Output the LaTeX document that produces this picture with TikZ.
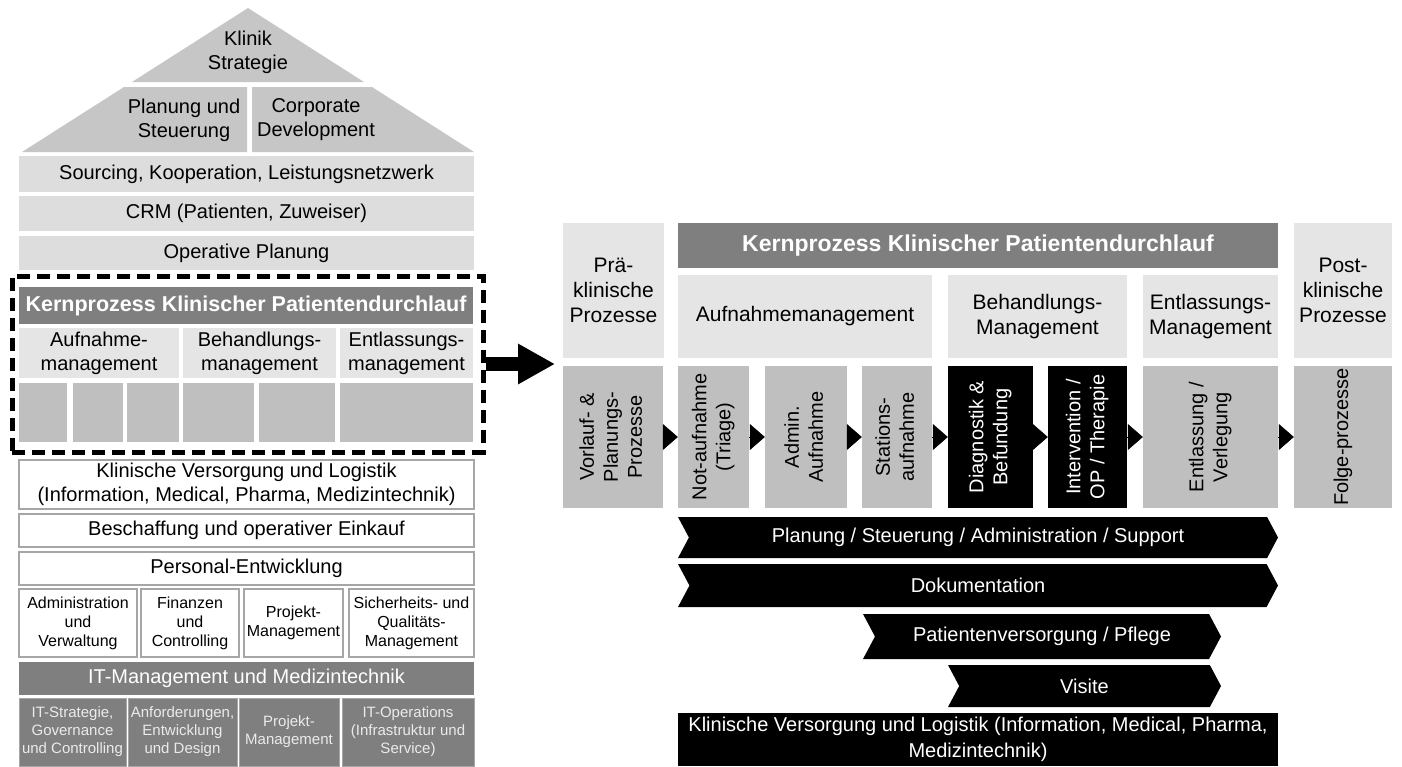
\documentclass[tikz,border=0pt]{standalone}
\usepackage{fontspec}
\setmainfont{Liberation Sans}
\usetikzlibrary{positioning,arrows.meta,shapes.symbols}
\definecolor{roofgray}{HTML}{C6C6C6}
\definecolor{bargray}{HTML}{DDDDDD}
\definecolor{headgray}{HTML}{E5E5E5}
\definecolor{cellgray}{HTML}{BFBFBF}
\definecolor{kerngray}{HTML}{7F7F7F}
\definecolor{framegray}{HTML}{A6A6A6}

\begin{document}
\begin{tikzpicture}[x=1pt,y=-1pt,
  spanning/.style n args={4}{minimum width={#3-#1}, minimum height={#4-#2}, at={({(#1+#3)/2},{(#2+#4)/2})}},
  cell/.style={inner sep=0pt, align=center, font=\fontsize{20}{24}\selectfont},
  lightbar/.style={cell, fill=bargray},
  headbox/.style={cell, fill=headgray},
  greybox/.style={cell, fill=cellgray},
  kernbar/.style={cell, fill=kerngray, text=white},
  whitebox/.style={cell, draw=framegray, line width=1.5pt, fill=white},
  smallbox/.style={whitebox, font=\fontsize{16}{19}\selectfont},
  itbox/.style={cell, fill=kerngray, draw=framegray, line width=1pt, text=white!92!black, font=\fontsize{15}{18}\selectfont},
  blackbox/.style={cell, fill=black, text=white},
  chevron/.style={cell, shape=signal, signal from=west, signal to=east, signal pointer angle=124, fill=black, text=white},
  stepto/.style={-{Triangle[length=15pt,width=26pt]}, line width=0.5pt},
  focusframe/.style={draw, line width=5pt, dash pattern=on 13pt off 7pt, inner sep=0pt},
  bigarrow/.style={-{Triangle[length=37pt,width=38pt]}, line width=14pt}
]
\useasboundingbox (0,0) rectangle (1402,766);

% house roof
\fill[roofgray] (248,8) -- (364,82) -- (132,82) -- cycle;
\fill[roofgray] (124,87) -- (247,87) -- (247,152) -- (22,152) -- cycle;
\fill[roofgray] (252,87) -- (372,87) -- (474,152) -- (252,152) -- cycle;
\node[cell] (strat) at (248,52) {Klinik\\Strategie};
\node[cell] (plst) at (184,120) {Planung und\\Steuerung};
\node[cell] (corp) at (316,120) {Corporate\\Development};

% house floors
\node[lightbar, spanning={19}{156}{474}{192}] (src) {Sourcing, Kooperation, Leistungsnetzwerk};
\node[lightbar, spanning={19}{196}{474}{231}] (crm) {CRM (Patienten, Zuweiser)};
\node[lightbar, spanning={19}{236}{474}{270}] (opp) {Operative Planung};

\node[kernbar, spanning={19}{287}{473}{324}, font=\fontsize{21.5}{24}\selectfont\bfseries] (kpl) {Kernprozess Klinischer Patientendurchlauf};
\node[headbox, spanning={19}{328}{179}{378}] (aufl) {Aufnahme-\\management};
\node[headbox, spanning={183}{328}{336}{378}] (behl) {Behandlungs-\\management};
\node[headbox, spanning={340}{328}{473}{378}] (entl) {Entlassungs-\\management};
\node[greybox, spanning={19}{383}{67}{442}] (sqa) {};
\node[greybox, spanning={73}{383}{123}{442}] (sqb) {};
\node[greybox, spanning={127}{383}{179}{442}] (sqc) {};
\node[greybox, spanning={183}{383}{254}{442}] (sqd) {};
\node[greybox, spanning={259}{383}{335}{442}] (sqe) {};
\node[greybox, spanning={340}{383}{473}{442}] (sqf) {};
\node[focusframe, spanning={12}{276}{483}{452}] (focus) {};

\node[whitebox, spanning={19}{460}{474}{509}] (kvl) {Klinische Versorgung und Logistik\\(Information, Medical, Pharma, Medizintechnik)};
\node[whitebox, spanning={19}{514}{474}{547}] (bes) {Beschaffung und operativer Einkauf};
\node[whitebox, spanning={19}{552}{474}{585}] (pers) {Personal-Entwicklung};
\node[smallbox, spanning={19}{589}{137}{657}] (adm) {Administration\\und\\Verwaltung};
\node[smallbox, spanning={141}{589}{239}{657}] (fin) {Finanzen\\und\\Controlling};
\node[smallbox, spanning={244}{589}{343}{657}] (prjl) {Projekt-\\Management};
\node[smallbox, spanning={349}{589}{474}{657}] (sich) {Sicherheits- und\\Qualitäts-\\Management};
\node[kernbar, spanning={19}{662}{474}{695}] (itm) {IT-Management und Medizintechnik};
\node[itbox, spanning={19}{698}{126}{766}] (its) {IT-Strategie,\\Governance\\und Controlling};
\node[itbox, spanning={128}{698}{237}{766}] (anf) {Anforderungen,\\Entwicklung\\und Design};
\node[itbox, spanning={239}{698}{339}{766}] (prji) {Projekt-\\Management};
\node[itbox, spanning={342}{698}{474}{766}] (itop) {IT-Operations\\(Infrastruktur und\\Service)};

\coordinate (tip) at (555,364);
\draw[bigarrow] (focus.east) -- (tip);

% core process, detail
\node[headbox, spanning={563}{223}{664}{358}, font=\fontsize{21}{25}\selectfont] (pre) {Prä-\\klinische\\Prozesse};
\node[kernbar, spanning={678}{223}{1278}{268}, font=\fontsize{23}{26}\selectfont\bfseries] (kpr) {Kernprozess Klinischer Patientendurchlauf};
\node[headbox, spanning={678}{275}{932}{358}, font=\fontsize{21}{25}\selectfont] (aufr) {Aufnahmemanagement};
\node[headbox, spanning={948}{275}{1127}{358}, font=\fontsize{21}{25}\selectfont] (behr) {Behandlungs-\\Management};
\node[headbox, spanning={1143}{275}{1278}{358}, font=\fontsize{21}{25}\selectfont] (entr) {Entlassungs-\\Management};
\node[headbox, spanning={1294}{223}{1392}{358}, font=\fontsize{21}{25}\selectfont] (post) {Post-\\klinische\\Prozesse};

\node[greybox, spanning={563}{366}{663}{508}] (vor) {\rotatebox{90}{\begin{tabular}{@{}c@{}}Vorlauf- \&\\Planungs-\\Prozesse\end{tabular}}};
\node[greybox, spanning={678}{366}{749}{508}] (nota) {\rotatebox{90}{\begin{tabular}{@{}c@{}}Not-aufnahme\\(Triage)\end{tabular}}};
\node[greybox, spanning={765}{366}{847}{508}] (admi) {\rotatebox{90}{\begin{tabular}{@{}c@{}}Admin.\\Aufnahme\end{tabular}}};
\node[greybox, spanning={862}{366}{932}{508}] (stat) {\rotatebox{90}{\begin{tabular}{@{}c@{}}Stations-\\aufnahme\end{tabular}}};
\node[blackbox, spanning={948}{366}{1033}{508}] (diag) {\rotatebox{90}{\begin{tabular}{@{}c@{}}Diagnostik \&\\Befundung\end{tabular}}};
\node[blackbox, spanning={1048}{366}{1127}{508}] (inter) {\rotatebox{90}{\begin{tabular}{@{}c@{}}Intervention /\\OP / Therapie\end{tabular}}};
\node[greybox, spanning={1143}{366}{1278}{508}] (verl) {\rotatebox{90}{\begin{tabular}{@{}c@{}}Entlassung /\\Verlegung\end{tabular}}};
\node[greybox, spanning={1294}{366}{1392}{508}] (folge) {\rotatebox{90}{Folge-prozesse}};

\draw[stepto] (vor) -- (nota);
\draw[stepto] (nota) -- (admi);
\draw[stepto] (admi) -- (stat);
\draw[stepto] (stat) -- (diag);
\draw[stepto] (diag) -- (inter);
\draw[stepto] (inter) -- (verl);
\draw[stepto] (verl) -- (folge);

% support processes
\node[chevron, spanning={678}{517}{1278}{558}] (plan) {Planung / Steuerung / Administration / Support};
\node[chevron, spanning={678}{564}{1278}{607}] (doku) {Dokumentation};
\node[chevron, spanning={863}{614}{1221}{659}] (pfl) {Patientenversorgung / Pflege};
\node[chevron, spanning={948}{665}{1221}{707}] (visit) {Visite};
\node[blackbox, spanning={678}{713}{1278}{766}, font=\fontsize{20}{26}\selectfont] (kvr) {Klinische Versorgung und Logistik (Information, Medical, Pharma,\\Medizintechnik)};
\end{tikzpicture}
\end{document}
